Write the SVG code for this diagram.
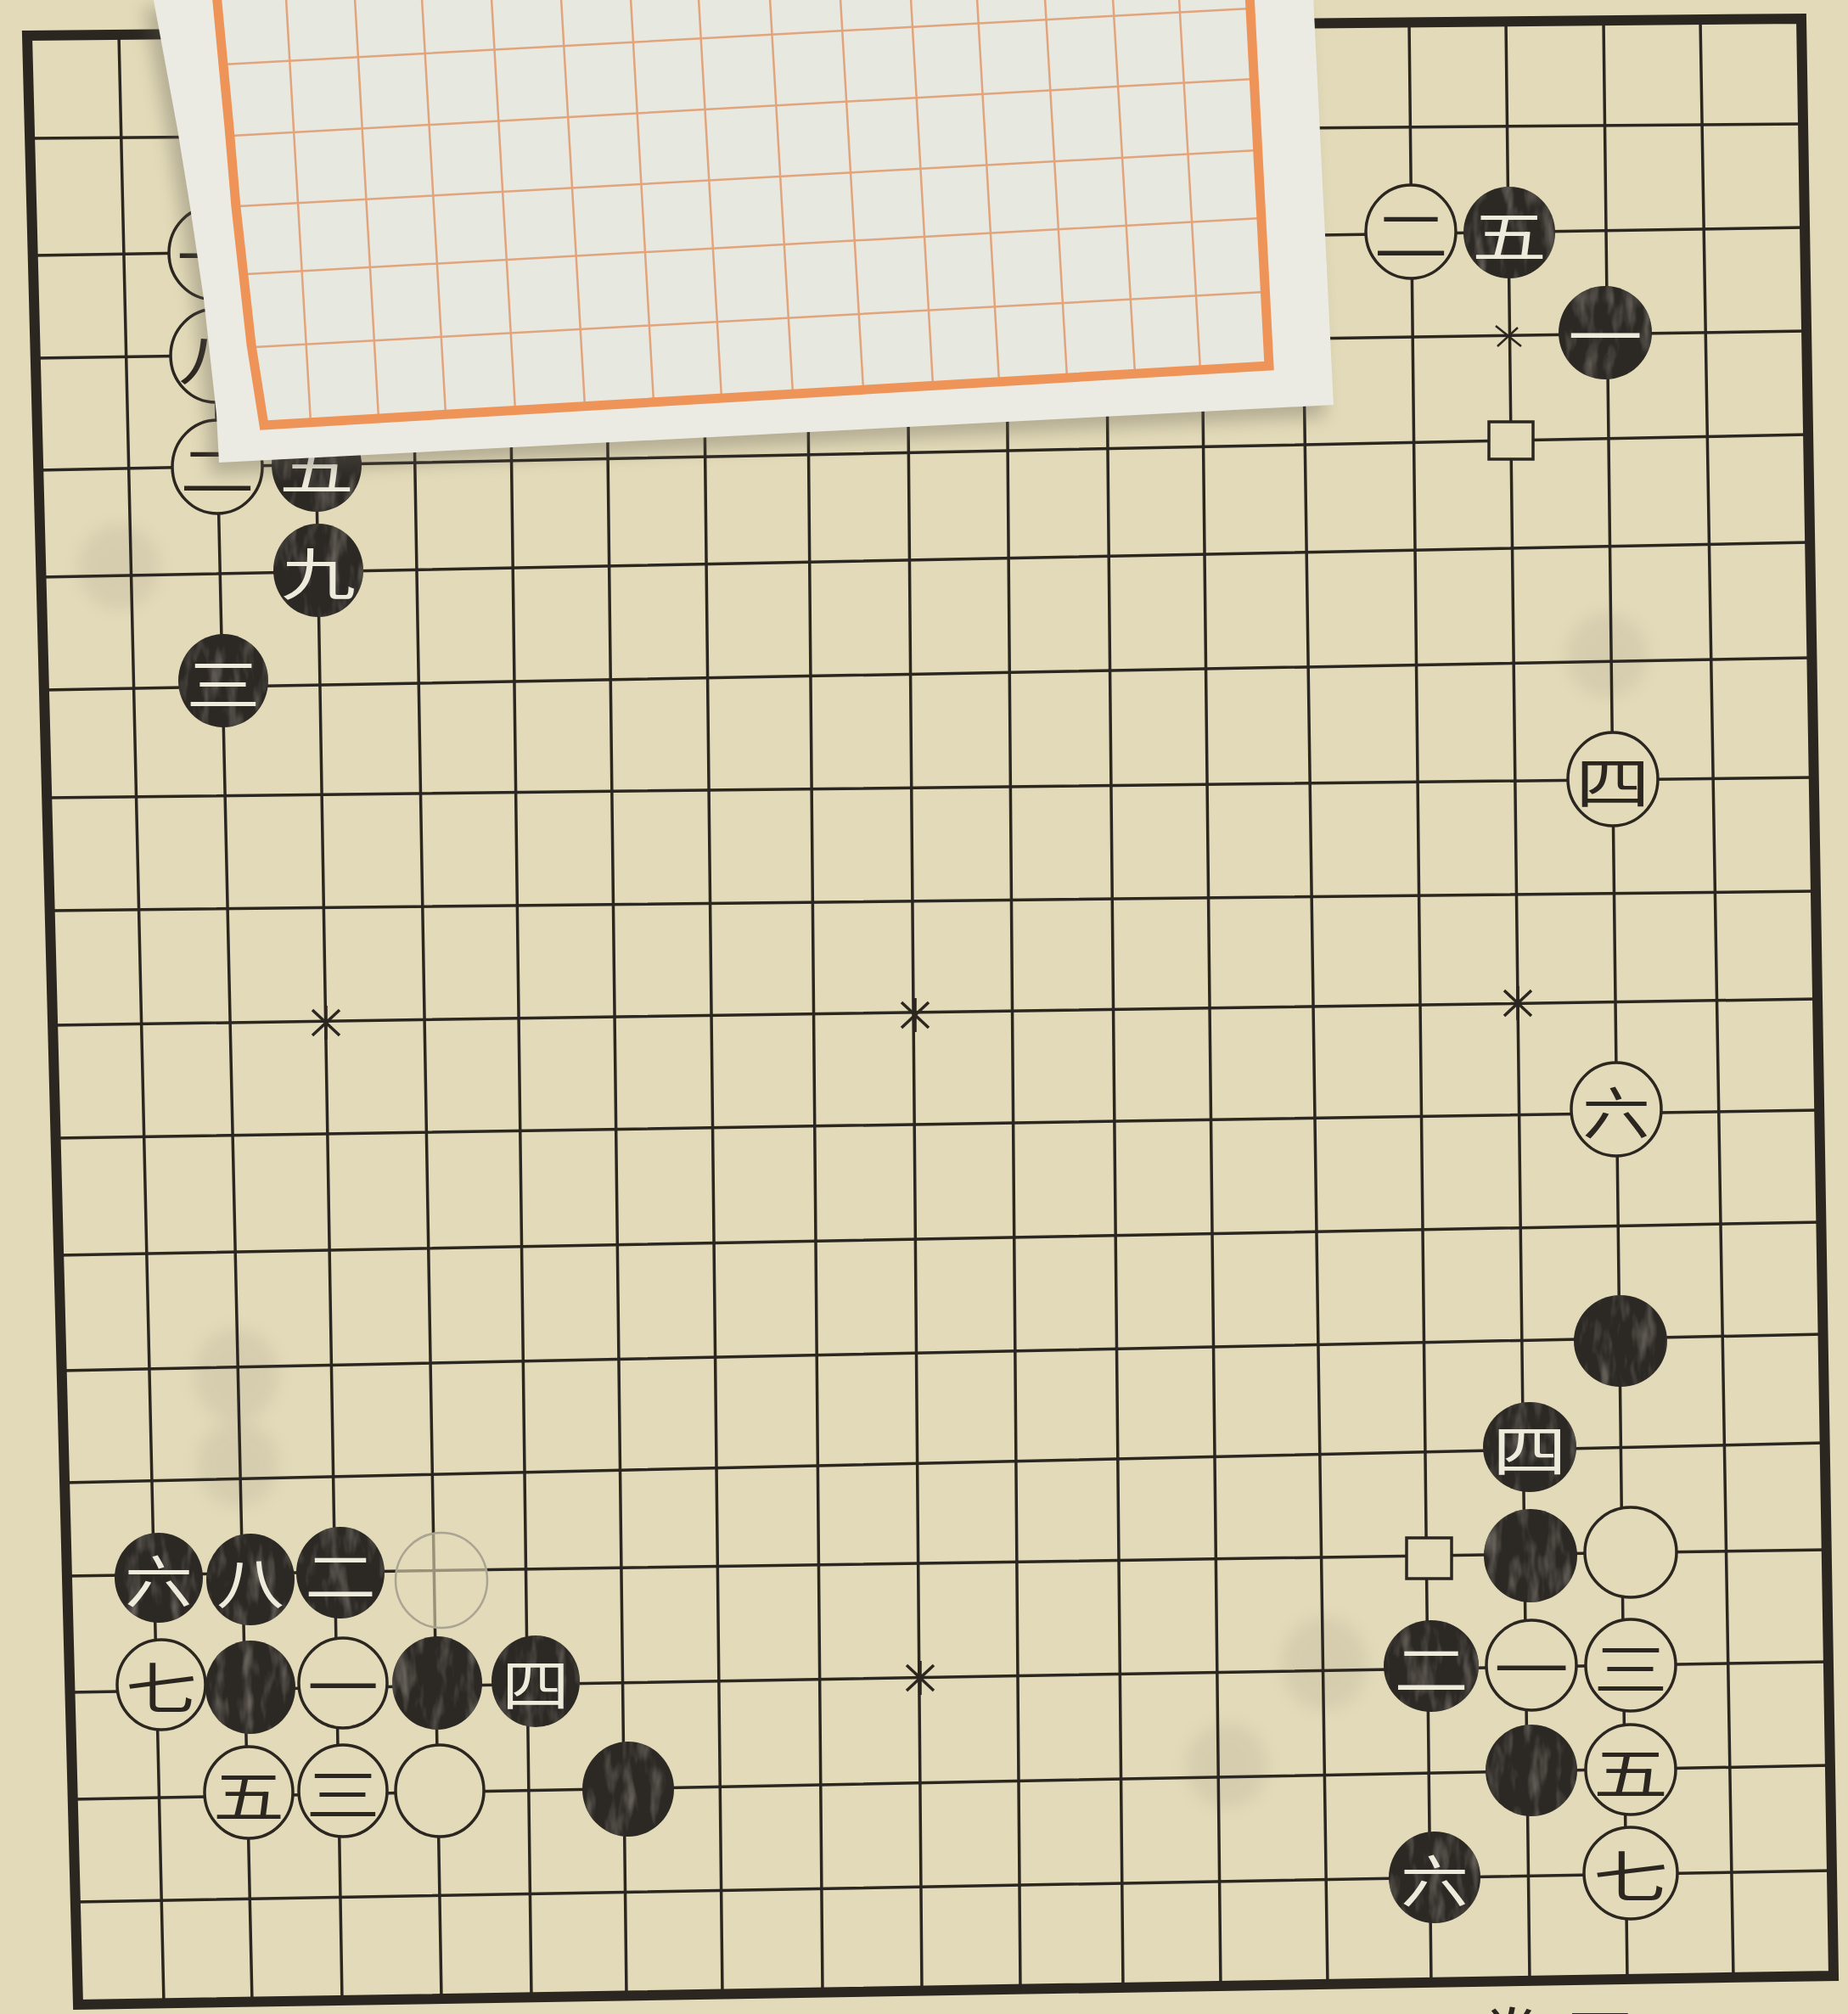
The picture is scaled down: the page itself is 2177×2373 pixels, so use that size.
<svg xmlns="http://www.w3.org/2000/svg" width="2177" height="2373" viewBox="0 0 2177 2373">
<defs>
<style>
.ln{stroke:#2b2620;stroke-width:3.5;fill:none}
.bd{stroke:#2b2620;stroke-width:12;fill:none;stroke-linejoin:miter}
.b{fill:#2c2824;filter:url(#ink)}
.w{fill:#e2dab8;stroke:#2b2620;stroke-width:3.5}
.wf{fill:#e2dab8;fill-opacity:.6;stroke:#aaa493;stroke-width:2.5}
.mk{fill:#e2dab8;stroke:#2b2620;stroke-width:3.5}
.st{stroke:#2b2620;stroke-width:3.5;fill:none}
.tb,.tw{font-family:"Noto Sans CJK SC","Noto Sans CJK JP",sans-serif;font-size:66px;text-anchor:middle;dominant-baseline:central}
.tb{fill:#eeeadc}
.tw{fill:#2b2620}
.og{stroke:#e2a47c;stroke-width:2.5;fill:none}
.ob{stroke:#ef9458;stroke-width:11;fill:none;stroke-linejoin:miter}
.gh{fill:#7d786c;opacity:.12;filter:url(#blur)}
</style>
<filter id="ink" x="-10%" y="-10%" width="120%" height="120%" color-interpolation-filters="sRGB">
<feTurbulence type="fractalNoise" baseFrequency="0.06 0.018" numOctaves="3" seed="7" result="n"/>
<feColorMatrix in="n" type="matrix" values="0 0 0 0 0.42  0 0 0 0 0.40  0 0 0 0 0.37  2.6 0 0 0 -1.25" result="s"/>
<feComposite in="s" in2="SourceGraphic" operator="in" result="s2"/>
<feMerge><feMergeNode in="SourceGraphic"/><feMergeNode in="s2"/></feMerge>
</filter>
<filter id="blur" x="-30%" y="-30%" width="160%" height="160%"><feGaussianBlur stdDeviation="9"/></filter>
<filter id="shadow" x="-10%" y="-20%" width="120%" height="140%"><feGaussianBlur stdDeviation="10"/></filter>
</defs>

<rect x="0" y="0" width="2177" height="2373" fill="#e2dab8"/>

<g id="bleed-through">
<ellipse class="gh" cx="140" cy="668" rx="48" ry="50"/>
<ellipse class="gh" cx="278" cy="1620" rx="50" ry="55"/>
<ellipse class="gh" cx="280" cy="1725" rx="48" ry="50"/>
<ellipse class="gh" cx="1560" cy="1960" rx="50" ry="55"/>
<ellipse class="gh" cx="1445" cy="2080" rx="48" ry="50"/>
<ellipse class="gh" cx="1893" cy="772" rx="48" ry="50"/>
</g>

<g id="board">
<path class="ln" d="M35,163 L2124,146 M39,301 L2126,268 M42,422 L2128,390 M45,554 L2130,512 M48,680 L2132,639 M52,813 L2134,775 M55,940 L2137,916 M59,1073 L2139,1050 M62,1208 L2141,1177 M66,1341 L2143,1308 M69,1479 L2145,1440 M72,1615 L2148,1572 M76,1747 L2150,1700 M79,1857 L2152,1826 M82,1994 L2154,1958 M86,2120 L2156,2080 M89,2241 L2158,2204"/>
<path class="ln" d="M140,41 L193,2360 M245,40 L297,2359 M364,39 L403,2357 M480,38 L520,2355 M596,37 L626,2353 M710,36 L738,2351 M825,34 L851,2350 M948,33 L969,2348 M1066,32 L1086,2346 M1183,31 L1202,2344 M1300,30 L1323,2342 M1412,29 L1438,2341 M1530,28 L1564,2339 M1660,26 L1686,2337 M1774,25 L1802,2335 M1889,24 L1917,2333 M2003,23 L2042,2331"/>
<path class="bd" d="M32,42 L2122,22 L2160,2328 L92,2362 Z"/>
</g>

<g id="star-points">
<path class="st" d="M368,1190 L400,1220 M368,1220 L400,1190 M384,1185 L384,1225"/>
<path class="st" d="M1062,1181 L1094,1211 M1062,1211 L1094,1181 M1078,1176 L1078,1216"/>
<path class="st" d="M1772,1167 L1804,1197 M1772,1197 L1804,1167 M1788,1162 L1788,1202"/>
<path class="st" d="M1068,1962 L1100,1992 M1068,1992 L1100,1962 M1084,1957 L1084,1997"/>
</g>

<g id="marks">
<path id="mark-cross" class="st" style="stroke-width:2.5" d="M1762,384 L1792,408 M1764,408 L1788,386"/>
<rect id="mark-square-top" class="mk" x="1754" y="497" width="52" height="44"/>
<rect id="mark-square-right" class="mk" x="1657" y="1812" width="53" height="48"/>
</g>

<g id="stones-top-left">
<g id="tl-w1"><ellipse class="w" cx="252" cy="298" rx="53" ry="55"/><text class="tw" x="252" y="298" textLength="88" lengthAdjust="spacingAndGlyphs">一</text></g>
<g id="tl-w8"><ellipse class="w" cx="254" cy="419" rx="53" ry="55"/><text class="tw" x="254" y="419" textLength="88" lengthAdjust="spacingAndGlyphs">八</text></g>
<g id="tl-w2"><ellipse class="w" cx="256" cy="550" rx="53" ry="55"/><text class="tw" x="256" y="550" textLength="88" lengthAdjust="spacingAndGlyphs">二</text></g>
<g id="tl-b5"><ellipse class="b" cx="373" cy="548" rx="53" ry="55"/><text class="tb" x="373" y="548" textLength="88" lengthAdjust="spacingAndGlyphs">五</text></g>
<g id="tl-b9"><ellipse class="b" cx="375" cy="672" rx="53" ry="55"/><text class="tb" x="375" y="672" textLength="88" lengthAdjust="spacingAndGlyphs">九</text></g>
<g id="tl-b3"><ellipse class="b" cx="263" cy="802" rx="53" ry="55"/><text class="tb" x="263" y="802" textLength="88" lengthAdjust="spacingAndGlyphs">三</text></g>
</g>

<g id="stones-top-right">
<g id="tr-w2"><ellipse class="w" cx="1662" cy="273" rx="53" ry="55"/><text class="tw" x="1662" y="273" textLength="88" lengthAdjust="spacingAndGlyphs">二</text></g>
<g id="tr-b5"><ellipse class="b" cx="1778" cy="274" rx="54" ry="54"/><text class="tb" x="1778" y="274" textLength="88" lengthAdjust="spacingAndGlyphs">五</text></g>
<g id="tr-b1"><ellipse class="b" cx="1891" cy="392" rx="55" ry="55"/><text class="tb" x="1891" y="392" textLength="88" lengthAdjust="spacingAndGlyphs">一</text></g>
</g>

<g id="stones-right">
<g id="r-w4"><ellipse class="w" cx="1900" cy="918" rx="53" ry="55"/><text class="tw" x="1900" y="918" textLength="88" lengthAdjust="spacingAndGlyphs">四</text></g>
<g id="r-w6"><ellipse class="w" cx="1904" cy="1307" rx="53" ry="55"/><text class="tw" x="1904" y="1307" textLength="80" lengthAdjust="spacingAndGlyphs">六</text></g>
<g id="r-b"><ellipse class="b" cx="1909" cy="1580" rx="55" ry="54"/></g>
<g id="r-b4"><ellipse class="b" cx="1802" cy="1705" rx="55" ry="53"/><text class="tb" x="1802" y="1705" textLength="88" lengthAdjust="spacingAndGlyphs">四</text></g>
<g id="r-b-a"><ellipse class="b" cx="1803" cy="1833" rx="55" ry="55"/></g>
<g id="r-w-a"><ellipse class="w" cx="1921" cy="1829" rx="54" ry="53"/></g>
<g id="r-b2"><ellipse class="b" cx="1686" cy="1963" rx="56" ry="54"/><text class="tb" x="1686" y="1963" textLength="88" lengthAdjust="spacingAndGlyphs">二</text></g>
<g id="r-w1"><ellipse class="w" cx="1804" cy="1962" rx="53" ry="53"/><text class="tw" x="1804" y="1962" textLength="88" lengthAdjust="spacingAndGlyphs">一</text></g>
<g id="r-w3"><ellipse class="w" cx="1921" cy="1962" rx="53" ry="54"/><text class="tw" x="1921" y="1962" textLength="88" lengthAdjust="spacingAndGlyphs">三</text></g>
<g id="r-b-b"><ellipse class="b" cx="1804" cy="2086" rx="54" ry="54"/></g>
<g id="r-w5"><ellipse class="w" cx="1921" cy="2085" rx="53" ry="53"/><text class="tw" x="1921" y="2085" textLength="88" lengthAdjust="spacingAndGlyphs">五</text></g>
<g id="r-b6"><ellipse class="b" cx="1690" cy="2212" rx="54" ry="54"/><text class="tb" x="1690" y="2212" textLength="80" lengthAdjust="spacingAndGlyphs">六</text></g>
<g id="r-w7"><ellipse class="w" cx="1921" cy="2207" rx="55" ry="54"/><text class="tw" x="1921" y="2207" textLength="88" lengthAdjust="spacingAndGlyphs">七</text></g>
</g>

<g id="stones-bottom-left">
<g id="bl-b6"><ellipse class="b" cx="187" cy="1859" rx="52" ry="53"/><text class="tb" x="187" y="1859" textLength="80" lengthAdjust="spacingAndGlyphs">六</text></g>
<g id="bl-b8"><ellipse class="b" cx="295" cy="1861" rx="52" ry="54"/><text class="tb" x="295" y="1861" textLength="80" lengthAdjust="spacingAndGlyphs">八</text></g>
<g id="bl-b2"><ellipse class="b" cx="401" cy="1853" rx="52" ry="54"/><text class="tb" x="401" y="1853" textLength="84" lengthAdjust="spacingAndGlyphs">二</text></g>
<g id="bl-wf"><ellipse class="wf" cx="520" cy="1862" rx="54" ry="56"/></g>
<g id="bl-w7"><ellipse class="w" cx="190" cy="1985" rx="52" ry="53"/><text class="tw" x="190" y="1985" textLength="84" lengthAdjust="spacingAndGlyphs">七</text></g>
<g id="bl-b-a"><ellipse class="b" cx="295" cy="1988" rx="53" ry="55"/></g>
<g id="bl-w1"><ellipse class="w" cx="404" cy="1983" rx="52" ry="53"/><text class="tw" x="404" y="1983" textLength="84" lengthAdjust="spacingAndGlyphs">一</text></g>
<g id="bl-b-b"><ellipse class="b" cx="515" cy="1983" rx="53" ry="55"/></g>
<g id="bl-b4"><ellipse class="b" cx="631" cy="1981" rx="52" ry="54"/><text class="tb" x="631" y="1981" textLength="80" lengthAdjust="spacingAndGlyphs">四</text></g>
<g id="bl-w5"><ellipse class="w" cx="293" cy="2112" rx="52" ry="54"/><text class="tw" x="293" y="2112" textLength="84" lengthAdjust="spacingAndGlyphs">五</text></g>
<g id="bl-w3"><ellipse class="w" cx="404" cy="2110" rx="52" ry="54"/><text class="tw" x="404" y="2110" textLength="88" lengthAdjust="spacingAndGlyphs">三</text></g>
<g id="bl-w-a"><ellipse class="w" cx="518" cy="2110" rx="52" ry="54"/></g>
<g id="bl-b-c"><ellipse class="b" cx="740" cy="2108" rx="54" ry="56"/></g>
</g>

<g id="paper-slip">
<path d="M180,-5 L209,152 L224,244 L240,352 L255,488 L258,545 L1571,477 L1547,-5 Z" fill="#5e5a50" opacity=".35" filter="url(#shadow)" transform="translate(-10,14)"/>
<path d="M180,-5 L209,152 L224,244 L240,352 L255,488 L258,545 L1571,477 L1547,-5 Z" fill="#ebebe3"/>
<path d="M255,-5 L270,150 L278,244 L296,406 L311,501 L1495,431 L1472,-5 Z" fill="#e7e8e0"/>
<path class="og" d="M337,-2 L366,498 M418,-2 L446,493 M497,-2 L525,488 M579,-2 L607,484 M661,-2 L689,479 M743,-2 L770,474 M823,-2 L850,469 M907,-2 L934,464 M990,-2 L1017,459 M1073,-2 L1099,454 M1151,-2 L1177,450 M1231,-2 L1257,445 M1311,-2 L1337,440 M1389,-2 L1414,436"/>
<path class="og" d="M262,76 L1473,10 M272,160 L1478,93 M281,243 L1482,177 M290,323 L1486,257 M299,409 L1490,344"/>
<path class="ob" d="M255,-8 L270,150 L278,244 L296,406 L311,501 L1495,431 L1472,-8"/>
</g>

<text id="page-caption" x="1740" y="2432" font-family="Noto Sans CJK SC, sans-serif" font-size="80" letter-spacing="25" fill="#2b2620">卷四</text>
</svg>
